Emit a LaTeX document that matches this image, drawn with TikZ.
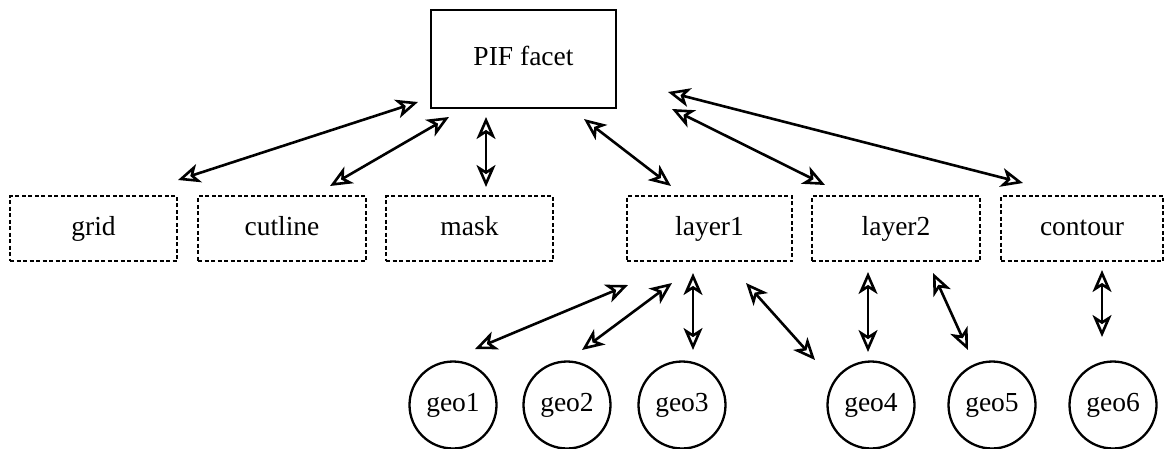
\documentclass[tikz,border=0pt]{standalone}
\usepackage{fontspec}
\setmainfont{Liberation Serif}
\usetikzlibrary{arrows.meta}
\begin{document}
\begin{tikzpicture}[x=1pt,y=-1pt,
  every node/.style={font=\fontsize{27.5}{30}\selectfont, inner sep=0pt, text height=19pt, text depth=6pt},
  solidbox/.style={draw, line width=2.5pt, minimum width=185pt, minimum height=98pt},
  dbox/.style={draw, line width=2.5pt, dash pattern=on 4pt off 2.5pt, minimum height=65pt},
  geo/.style={draw, circle, line width=2.3pt, minimum size=87pt},
  link/.style={line width=2.6pt, {Stealth[open,length=22pt,width=19pt,inset=6pt,line width=2.6pt]}-{Stealth[open,length=22pt,width=19pt,inset=6pt,line width=2.6pt]}}
]
\useasboundingbox (0,0) rectangle (1166,448);
\node[solidbox] (pif) at (523.5,59) {PIF facet};
\node[dbox, minimum width=167pt] (grid) at (93.5,228.5) {grid};
\node[dbox, minimum width=168pt] (cutline) at (282,228.5) {cutline};
\node[dbox, minimum width=167pt] (mask) at (469.5,228.5) {mask};
\node[dbox, minimum width=165pt] (layer1) at (709.5,228.5) {layer1};
\node[dbox, minimum width=168pt] (layer2) at (896,228.5) {layer2};
\node[dbox, minimum width=162pt] (contour) at (1082,228.5) {contour};
\node[geo] (geo1) at (453,405) {geo1};
\node[geo] (geo2) at (567,405) {geo2};
\node[geo] (geo3) at (682,405) {geo3};
\node[geo] (geo4) at (871,405) {geo4};
\node[geo] (geo5) at (992,405) {geo5};
\node[geo] (geo6) at (1113,405) {geo6};
% arrow end points
\coordinate (a1) at (178,180); \coordinate (b1) at (418,102);
\coordinate (a2) at (330,186); \coordinate (b2) at (449,117);
\coordinate (a3) at (486,187); \coordinate (b3) at (486,117);
\coordinate (a4) at (671,186); \coordinate (b4) at (584,119);
\coordinate (a5) at (825,185); \coordinate (b5) at (672,109);
\coordinate (a6) at (1023,183); \coordinate (b6) at (668,92);
\coordinate (c1) at (475,349); \coordinate (d1) at (628,285);
\coordinate (c2) at (582,350); \coordinate (d2) at (672,283);
\coordinate (c3) at (693,350); \coordinate (d3) at (693,273);
\coordinate (c4) at (815,360); \coordinate (d4) at (746,283);
\coordinate (c5) at (868,352); \coordinate (d5) at (868,272);
\coordinate (c6) at (968,350); \coordinate (d6) at (933,273);
\coordinate (c7) at (1102,337); \coordinate (d7) at (1102,270);
\foreach \i in {1,...,6} {\draw[link] (a\i) -- (b\i);}
\foreach \i in {1,...,7} {\draw[link] (c\i) -- (d\i);}
\end{tikzpicture}
\end{document}
